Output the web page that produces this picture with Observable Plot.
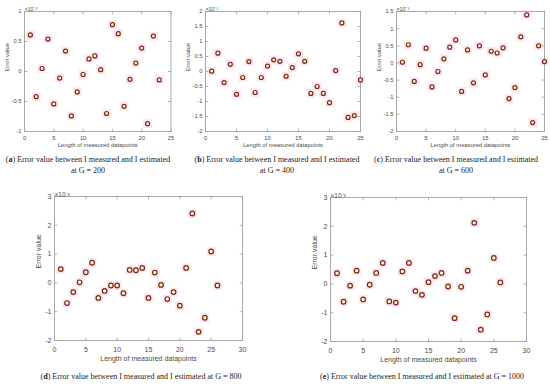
<!DOCTYPE html>
<html><head><meta charset="utf-8">
<script src="https://cdn.jsdelivr.net/npm/d3@7"></script>
<script src="https://cdn.jsdelivr.net/npm/@observablehq/plot@0.6"></script>
<style>
body{margin:0;background:#fff;}
#root{position:relative;width:550px;height:384px;overflow:hidden;background:#fff;}
.cap{position:absolute;font-family:"Liberation Serif","Times New Roman",serif;font-size:8px;color:#222;white-space:nowrap;transform:translateX(-50%);line-height:9px;}
</style></head><body><div id="root"></div>
<script>
const datapoints = [1,2,3,4,5,6,7,8,9,10,11,12,13,14,15,16,17,18,19,20,21,22,23,24,25,26];
// error values (x 10^-3)
const errG200 = [0.61,-0.42,0.05,0.54,-0.54,-0.11,0.34,-0.74,-0.34,-0.05,0.21,0.26,0.03,-0.70,0.78,0.63,-0.58,-0.13,0.14,0.39,-0.87,0.59,-0.14];
const errG400 = [0.01,0.61,-0.37,0.24,-0.76,-0.20,0.33,-0.70,-0.20,0.18,0.39,0.34,-0.16,0.13,0.59,0.34,-0.73,-0.50,-0.73,-1.04,0.03,1.62,-1.53,-1.47,-0.28];
const errG600 = [0.02,0.53,-0.54,-0.05,0.43,-0.70,-0.25,0.12,0.46,0.67,-0.83,0.38,-0.58,0.50,-0.35,0.34,0.29,0.44,-1.04,-0.72,0.76,1.40,-1.74,0.50,0.04];
const errG800 = [0.48,-0.70,-0.32,0.02,0.37,0.70,-0.52,-0.28,-0.09,-0.09,-0.36,0.45,0.44,0.52,-0.52,0.36,-0.07,-0.56,-0.32,-0.79,0.52,2.41,-1.70,-1.21,1.09,-0.09];
const errG1000 = [0.37,-0.62,-0.06,0.46,-0.54,-0.03,0.38,0.73,-0.61,-0.65,0.43,0.73,-0.25,-0.38,0.06,0.27,0.38,-0.09,-1.19,-0.10,0.46,2.12,-1.59,-1.06,0.90,0.05];

const xTicksTop = [0,5,10,15,20,25];
const xTicksBottom = [0,5,10,15,20,25,30];
const yTicksA = [-1,-0.5,0,0.5,1];
const yTicksB = [-2,-1.5,-1,-0.5,0,0.5,1,1.5,2];
const yTicksC = [-2,-1.5,-1,-0.5,0,0.5,1,1.5];
const yTicksDE = [-2,-1,0,1,2,3];

const xLabel = "Length of measured datapoints";
const yLabel = "Error value";
const expLabel = "×10⁻³";
const captionsTop = [
  ["a", "Error value between I measured and I estimated", "at G = 200"],
  ["b", "Error value between I measured and I estimated", "at G = 400"],
  ["c", "Error value between I measured and I estimated", "at G = 600"]
];
const captionsBottom = [
  ["d", "Error value between I measured and I estimated at G = 800"],
  ["e", "Error value between I measured and I estimated at G = 1000"]
];

const root = document.getElementById("root");
const tickShape = {draw(c, l) { c.moveTo(0, 0); c.lineTo(0, -l); }};

function panel({values, L, R, T, B, xDomain, yDomain, xTicks, yTicks, fs, ringR, tickDy, labDy, ylabDx}) {
  const ml = 36, mr = 8, mt = 14, mb = 28;
  const data = values.map((v, i) => ({x: datapoints[i], y: v}));
  const axC = "#a0a0a0";
  const txC = "#4a4a4a";
  const tk = {length: 2.5, anchor: "start", shape: tickShape, stroke: axC, strokeWidth: 0.8};
  const plot = Plot.plot({
    width: R - L + ml + mr, height: B - T + mt + mb,
    marginLeft: ml, marginRight: mr, marginTop: mt, marginBottom: mb,
    style: {fontFamily: "Liberation Sans, Arial, sans-serif", fontSize: fs + "px", background: "transparent", overflow: "visible"},
    x: {domain: xDomain, axis: null},
    y: {domain: yDomain, axis: null},
    marks: [
      Plot.dot(data, {x: "x", y: "y", symbol: "square", r: 5, fill: "#fde6f2"}),
      Plot.frame({stroke: axC, strokeWidth: 0.9}),
      Plot.vector(xTicks, {...tk, x: d => d, y: yDomain[0], rotate: 0}),
      Plot.vector(xTicks, {...tk, x: d => d, y: yDomain[1], rotate: 180}),
      Plot.vector(yTicks, {...tk, y: d => d, x: xDomain[0], rotate: 90}),
      Plot.vector(yTicks, {...tk, y: d => d, x: xDomain[1], rotate: 270}),
      Plot.text(xTicks, {x: d => d, y: yDomain[0], dy: tickDy, text: d => String(d), fill: txC}),
      Plot.text(yTicks, {y: d => d, x: xDomain[0], dx: -3, textAnchor: "end", text: d => String(d), fill: txC}),
      Plot.text([expLabel], {frameAnchor: "top-left", dy: -4, textAnchor: "start", text: d => d, fill: txC, fontSize: fs - 0.5}),
      Plot.text([xLabel], {frameAnchor: "bottom", dy: labDy, text: d => d, fill: txC}),
      Plot.text([yLabel], {frameAnchor: "left", dx: ylabDx, rotate: -90, text: d => d, fill: txC}),
      Plot.dot(data, {x: "x", y: "y", r: ringR, stroke: "#7a2a10", fill: "#fff7df", strokeWidth: 1.2})
    ]
  });
  plot.style.position = "absolute";
  plot.style.left = (L - ml) + "px";
  plot.style.top = (T - mt) + "px";
  root.appendChild(plot);
}

const topCfg = {T: 11, B: 131, xDomain: [0, 25], xTicks: xTicksTop, fs: 5.8, ringR: 2, tickDy: 6.5, labDy: 15.5, ylabDx: -17};
panel({...topCfg, values: errG200, L: 23.5, R: 170, yDomain: [-1, 1], yTicks: yTicksA});
panel({...topCfg, values: errG400, L: 205, R: 360, yDomain: [-2, 2], yTicks: yTicksB});
panel({...topCfg, values: errG600, L: 396, R: 544, yDomain: [-2, 1.5], yTicks: yTicksC});
const botCfg = {xDomain: [0, 30], xTicks: xTicksBottom, yDomain: [-2, 3], yTicks: yTicksDE, fs: 7, ringR: 2.3, tickDy: 9, labDy: 20, ylabDx: -16};
panel({...botCfg, values: errG800, L: 54, R: 242, T: 196, B: 340});
panel({...botCfg, values: errG1000, L: 330, R: 526, T: 197, B: 341});

function caption(html, cx, cy) {
  const d = document.createElement("div");
  d.className = "cap";
  d.innerHTML = html;
  d.style.left = cx + "px";
  d.style.top = (cy - 4.5) + "px";
  root.appendChild(d);
}
const topCx = [88, 277, 456];
captionsTop.forEach((c, i) => {
  caption(`(<b>${c[0]}</b>) ${c[1]}`, topCx[i], 159);
  caption(c[2], topCx[i], 170);
});
const botCx = [141, 422];
captionsBottom.forEach((c, i) => caption(`(<b>${c[0]}</b>) ${c[1]}`, botCx[i], 376));
</script>
</body></html>
